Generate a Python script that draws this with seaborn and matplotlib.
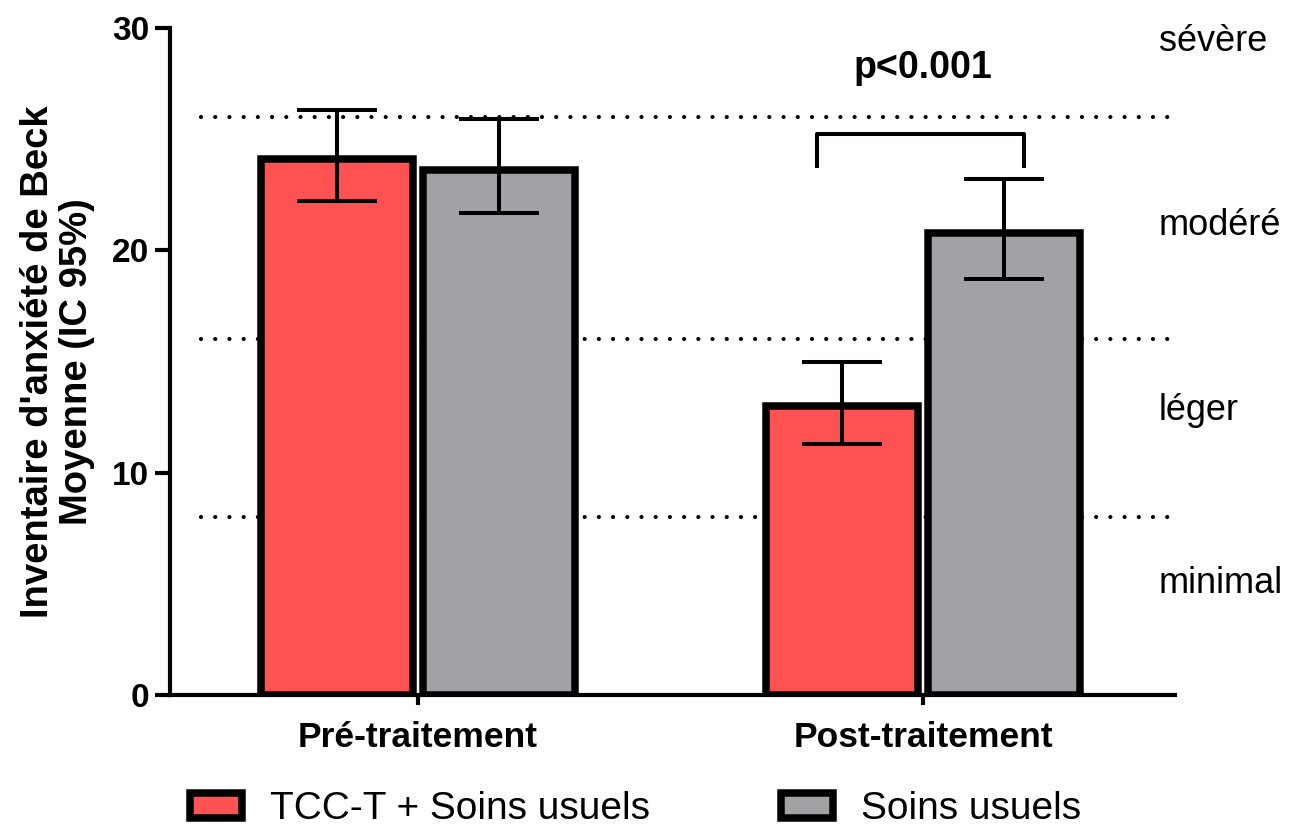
import numpy as np
import pandas as pd
import seaborn as sns
import matplotlib.pyplot as plt

# ---- Data
phases = ['Pré-traitement', 'Post-traitement']
groups = ['TCC-T + Soins usuels', 'Soins usuels']
means = {'TCC-T + Soins usuels': [24.1, 13.0],
         'Soins usuels': [23.6, 20.8]}
ci_low = {'TCC-T + Soins usuels': [22.2, 11.3],
          'Soins usuels': [21.7, 18.7]}
ci_high = {'TCC-T + Soins usuels': [26.3, 15.0],
           'Soins usuels': [25.9, 23.2]}
cutoffs = [8, 16, 26]
severity = ['minimal', 'léger', 'modéré', 'sévère']
severity_y = [5.0, 12.8, 21.1, 29.4]
colors = ['#FF5252', '#A2A1A6']

rows = []
for g in groups:
    for p, m in zip(phases, means[g]):
        rows.append({'phase': p, 'group': g, 'mean': m})
df = pd.DataFrame(rows)

sns.set_style('ticks')
fam = ['Liberation Sans', 'DejaVu Sans']
plt.rcParams['font.family'] = fam
plt.rcParams['text.color'] = 'black'
plt.rcParams['axes.labelcolor'] = 'black'
plt.rcParams['xtick.color'] = 'black'
plt.rcParams['ytick.color'] = 'black'
plt.rcParams['axes.edgecolor'] = 'black'

fig = plt.figure(figsize=(12.97, 8.31), dpi=100)
ax = fig.add_axes([170/1297, 1-695/831, 1005/1297, 667/831])

# dotted threshold lines behind the bars
ax.hlines(cutoffs, -0.43, 1.49, colors='black', linewidth=3.0,
          linestyles=(0, (0.01, 3.4)), zorder=0.5, capstyle='round')

sns.barplot(data=df, x='phase', y='mean', hue='group', order=phases,
            hue_order=groups, palette=colors, saturation=1, width=0.64,
            gap=0.06, edgecolor='black', linewidth=5.4, errorbar=None,
            ax=ax, zorder=2)

# asymmetric 95% CI
for cont, g in zip(ax.containers, groups):
    xs = [b.get_x() + b.get_width()/2 for b in cont]
    m = np.array(means[g])
    err = [m - np.array(ci_low[g]), np.array(ci_high[g]) - m]
    ax.errorbar(xs, m, yerr=err, fmt='none', ecolor='black',
                elinewidth=2.9, capsize=29, capthick=2.9, zorder=3)

# significance bracket over Post-traitement
bx0, bx1, by0, by1 = 1 - 0.21, 1 + 0.2, 23.7, 25.25
ax.plot([bx0, bx0, bx1, bx1], [by0, by1, by1, by0], color='black',
        linewidth=2.9, solid_capstyle='butt', zorder=3)
ax.text(1.0, 28.2, 'p<0.001', ha='center', va='center', fontsize=27,
        fontweight='bold')

for lab, yy in zip(severity, severity_y):
    ax.text(1.467, yy, lab, ha='left', va='center', fontsize=26)

ax.set_xlim(-0.491, 1.499)
ax.set_ylim(0, 30)
ax.set_yticks([0, 10, 20, 30])
sns.despine(ax=ax)
ax.spines['left'].set_linewidth(3)
ax.spines['bottom'].set_linewidth(3)
ax.tick_params(axis='y', width=3, length=11, labelsize=24, pad=4)
ax.tick_params(axis='x', width=3, length=7, labelsize=25.5, pad=12)
for t in ax.get_yticklabels() + ax.get_xticklabels():
    t.set_fontweight('bold')
ax.set_xlabel('')
ax.set_ylabel("Inventaire d'anxiété de Beck\nMoyenne (IC 95%)", fontsize=27.5,
              fontweight='bold', labelpad=12, linespacing=1.1)

handles, labels = ax.get_legend_handles_labels()
ax.get_legend().remove()
fig.legend(handles, labels, loc='center', bbox_to_anchor=(0.49, 0.026),
           ncol=2, frameon=False, prop={'size': 28},
           handlelength=1.34, handleheight=0.62, handletextpad=0.72,
           columnspacing=3.35)

fig.savefig('out.png', dpi=100)
